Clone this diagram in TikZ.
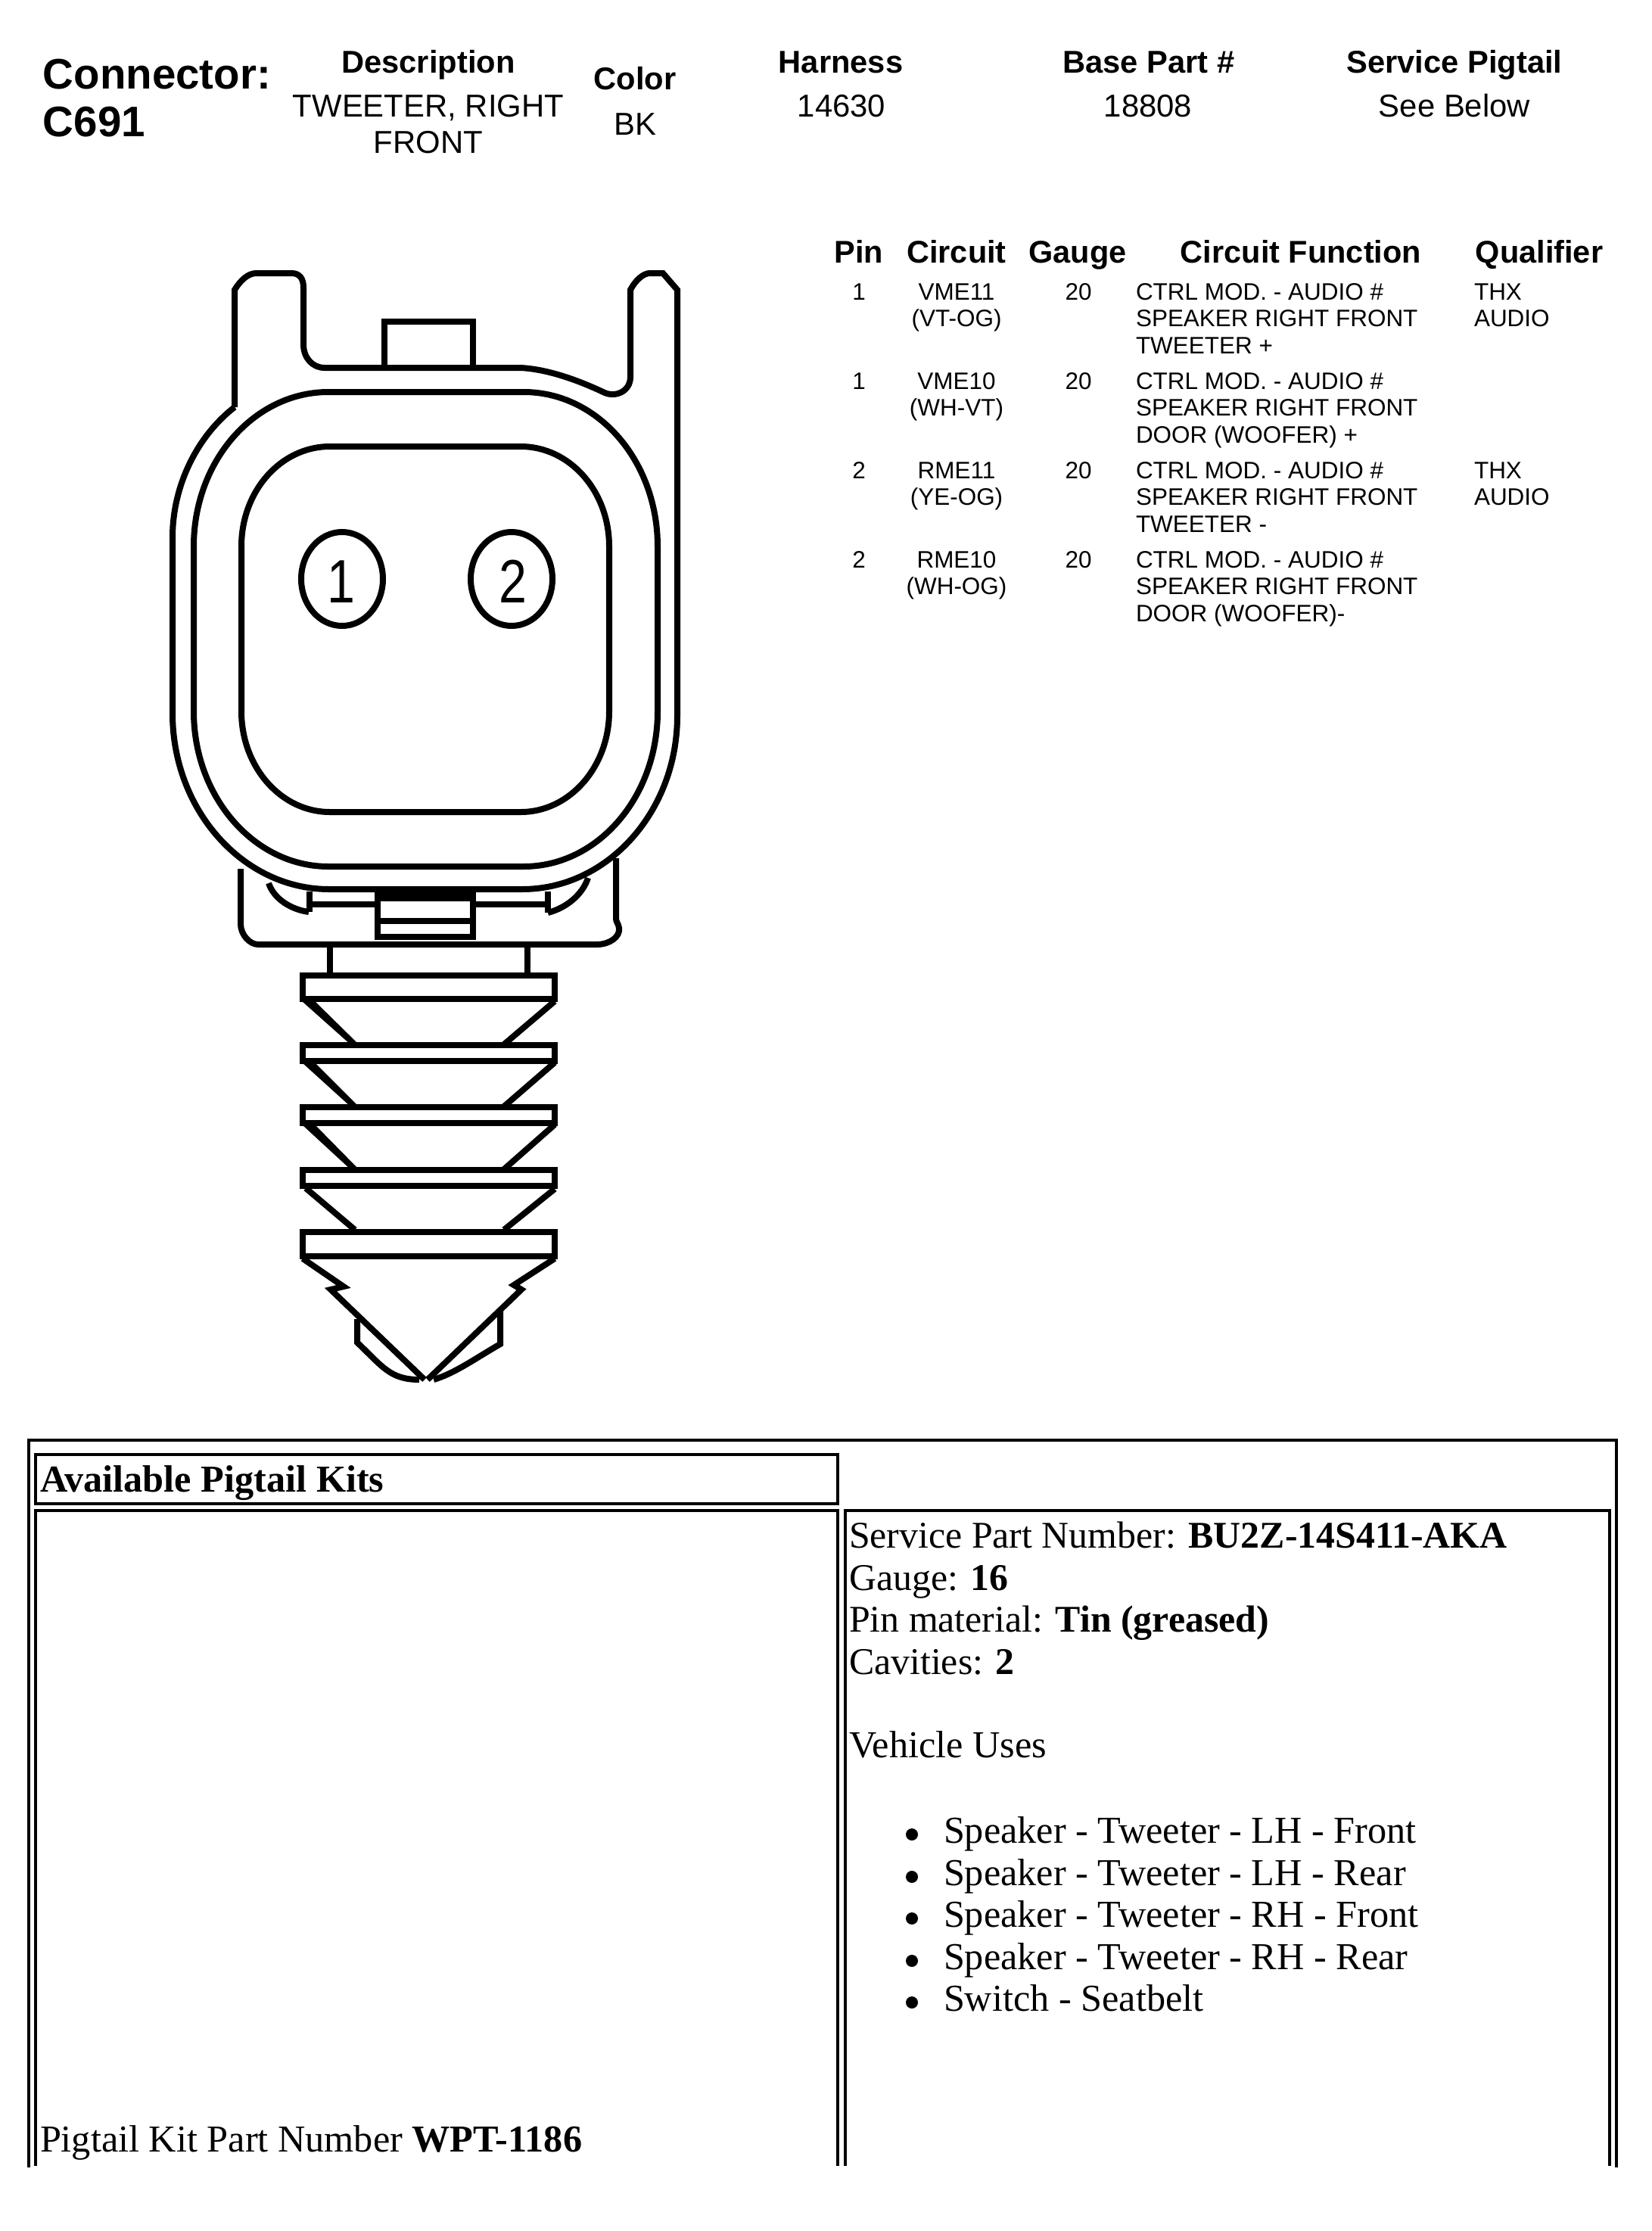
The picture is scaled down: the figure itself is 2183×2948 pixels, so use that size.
\documentclass[tikz,border=0pt]{standalone}
\usepackage{fontspec}
\setmainfont{Liberation Serif}
\newfontfamily\arialf{Liberation Sans}
\newcommand{\szA}{\fontsize{16.05pt}{18pt}\selectfont}
\newcommand{\szB}{\fontsize{11.85pt}{13pt}\selectfont}
\newcommand{\szC}{\fontsize{11.9pt}{13pt}\selectfont}
\newcommand{\szD}{\fontsize{11.8pt}{13pt}\selectfont}
\newcommand{\szE}{\fontsize{8.95pt}{10pt}\selectfont}
\newcommand{\szF}{\fontsize{14.3pt}{16pt}\selectfont}
\newcommand{\szG}{\fontsize{14.18pt}{16pt}\selectfont}
\tikzset{
  x=0.01cm,y=-0.01cm,
  lab/.style={inner sep=0pt,outer sep=0pt,anchor=base},
  labw/.style={inner sep=0pt,outer sep=0pt,anchor=base west},
  big/.style={font=\arialf\bfseries\szA},
  hd/.style={font=\arialf\bfseries\szB},
  val/.style={font=\arialf\szC},
  thd/.style={font=\arialf\bfseries\szD},
  cell/.style={font=\arialf\szE},
  ser/.style={font=\szF},
  sertight/.style={font=\szG},
  ink/.style={line width=0.08cm,black,line join=miter},
  rib/.style={line width=0.085cm,black},
  rule/.style={line width=0.04cm,black},
  digit/.style={inner sep=0pt,outer sep=0pt,anchor=base,font=\arialf\fontsize{23pt}{24pt}\selectfont},
}
\begin{document}
\begin{tikzpicture}
\useasboundingbox (0,0) rectangle (2183,2948);
% header
\node[labw,big] (conn) at (57,117) {Connector:};
\node[labw,big] (cnum) at (57,180) {C691};
\node[lab,hd] (hdesc) at (566,96) {Description};
\node[lab,val] (vdesc1) at (566,154) {TWEETER, RIGHT};
\node[lab,val] (vdesc2) at (566,202) {FRONT};
\node[lab,hd] (hcol) at (839,118) {Color};
\node[lab,val] (vcol) at (839,178) {BK};
\node[lab,hd] (hhar) at (1111,96) {Harness};
\node[lab,val] (vhar) at (1112,154) {14630};
\node[lab,hd] (hbase) at (1518,96) {Base Part \#};
\node[lab,val] (vbase) at (1517,154) {18808};
\node[lab,hd] (hserv) at (1922,96) {Service Pigtail};
\node[lab,val] (vserv) at (1922,154) {See Below};
% pin table head
\node[lab,thd] (tp) at (1135,347) {Pin};
\node[lab,thd] (tc) at (1264,347) {Circuit};
\node[lab,thd] (tg) at (1424,347) {Gauge};
\node[lab,thd] (tf) at (1719,347) {Circuit Function};
\node[lab,thd] (tq) at (2034,347) {Qualifier};
% row 1
\node[lab,cell] (p1) at (1135,396) {1};
\node[lab,cell] (c1a) at (1264,396) {VME11};
\node[lab,cell] (c1b) at (1264,431) {(VT-OG)};
\node[lab,cell] (g1) at (1425,396) {20};
\node[labw,cell] (f1a) at (1501,396) {CTRL MOD. - AUDIO \#};
\node[labw,cell] (f1b) at (1501,431) {SPEAKER RIGHT FRONT};
\node[labw,cell] (f1c) at (1501,467) {TWEETER +};
\node[labw,cell] (q1a) at (1948,396) {THX};
\node[labw,cell] (q1b) at (1948,431) {AUDIO};
% row 2
\node[lab,cell] (p2) at (1135,514) {1};
\node[lab,cell] (c2a) at (1264,514) {VME10};
\node[lab,cell] (c2b) at (1264,549) {(WH-VT)};
\node[lab,cell] (g2) at (1425,514) {20};
\node[labw,cell] (f2a) at (1501,514) {CTRL MOD. - AUDIO \#};
\node[labw,cell] (f2b) at (1501,549) {SPEAKER RIGHT FRONT};
\node[labw,cell] (f2c) at (1501,585) {DOOR (WOOFER) +};
% row 3
\node[lab,cell] (p3) at (1135,632) {2};
\node[lab,cell] (c3a) at (1264,632) {RME11};
\node[lab,cell] (c3b) at (1264,667) {(YE-OG)};
\node[lab,cell] (g3) at (1425,632) {20};
\node[labw,cell] (f3a) at (1501,632) {CTRL MOD. - AUDIO \#};
\node[labw,cell] (f3b) at (1501,667) {SPEAKER RIGHT FRONT};
\node[labw,cell] (f3c) at (1501,703) {TWEETER -};
\node[labw,cell] (q3a) at (1948,632) {THX};
\node[labw,cell] (q3b) at (1948,667) {AUDIO};
% row 4
\node[lab,cell] (p4) at (1135,750) {2};
\node[lab,cell] (c4a) at (1264,750) {RME10};
\node[lab,cell] (c4b) at (1264,785) {(WH-OG)};
\node[lab,cell] (g4) at (1425,750) {20};
\node[labw,cell] (f4a) at (1501,750) {CTRL MOD. - AUDIO \#};
\node[labw,cell] (f4b) at (1501,785) {SPEAKER RIGHT FRONT};
\node[labw,cell] (f4c) at (1501,821) {DOOR (WOOFER)-};
% connector housing outer
\draw[ink] (310,538)--(310,383) .. controls (318,370) and (328,361) .. (339,361)--(385,361)
  .. controls (396,361) and (401,368) .. (401,380)--(401,455)
  .. controls (401,473) and (413,486) .. (429,486)--(688,486)
  .. controls (725,488) and (765,503) .. (797,518)
  .. controls (812,526) and (833,518) .. (833,498)--(833,383)
  .. controls (840,370) and (850,361) .. (859,361)--(876,361)--(895,383)--(895,946)
  .. controls (895,1072) and (803,1175) .. (690,1175)--(435,1175)
  .. controls (321,1175) and (228,1070) .. (228,943)--(228,710)
  .. controls (228,640) and (262,575) .. (310,538);
% top key
\draw[ink] (508,486)--(508,424.5)--(625,424.5)--(625,486);
% mid ring
\draw[ink] (256,722) .. controls (256,609) and (336,518) .. (434,518)--(692,518)
  .. controls (790,518) and (869,609) .. (869,722)--(869,940)
  .. controls (869,1053) and (790,1145) .. (692,1145)--(434,1145)
  .. controls (336,1145) and (256,1053) .. (256,940)--cycle;
% inner ring
\draw[ink] (319,722) .. controls (319,649) and (371,590) .. (436,590)--(688,590)
  .. controls (753,590) and (805,649) .. (805,722)--(805,940)
  .. controls (805,1013) and (753,1073) .. (688,1073)--(436,1073)
  .. controls (371,1073) and (319,1013) .. (319,940)--cycle;
% cavities
\draw[ink] (452,765) ellipse [x radius=54,y radius=62];
\draw[ink] (676,765) ellipse [x radius=54,y radius=62];
\node[digit] (pin1) at (451,796) {\scalebox{0.82}[1.0]{1}};
\node[digit] (pin2) at (678,796) {\scalebox{0.82}[1.0]{2}};
% lower body
\draw[ink] (318,1148)--(318,1221) .. controls (318,1235) and (330,1248) .. (341,1248)--(789,1248)
  .. controls (805,1248) and (820,1238) .. (818,1226) .. controls (817,1220) and (814,1218) .. (814,1214)--(814,1134);
\draw[ink] (355,1167) .. controls (362,1188) and (385,1202) .. (408,1205);
\draw[ink] (777,1160) .. controls (770,1182) and (748,1200) .. (724,1206);
\draw[ink] (409,1178)--(409,1205);
\draw[ink] (724,1178)--(724,1206);
\draw[ink] (412,1195)--(499,1195);
\draw[ink] (626,1195)--(720,1195);
\fill[black] (495.5,1172) rectangle (629,1191);
\draw[ink] (499,1172)--(499,1238)--(625,1238)--(625,1172);
\draw[ink] (499,1217)--(625,1217);
% neck
\draw[ink] (436,1248)--(436,1287);
\draw[ink] (697,1248)--(697,1287);
% ribs
\draw[rib] (400,1289) rectangle (733,1320);
\draw[rib] (400,1381) rectangle (733,1402);
\draw[rib] (400,1463) rectangle (733,1484);
\draw[rib] (400,1546) rectangle (733,1567);
\draw[rib] (400,1628) rectangle (733,1660);
% tapers
\fill[black] (399,1323)--(416,1323)--(474,1380)--(463,1380)--cycle;
\draw[ink] (733,1323)--(666,1380);
\fill[black] (399,1404)--(416,1404)--(474,1462)--(463,1462)--cycle;
\draw[ink] (733,1404)--(666,1462);
\fill[black] (399,1486)--(416,1486)--(474,1545)--(463,1545)--cycle;
\draw[ink] (733,1486)--(666,1545);
\draw[ink] (404,1570)--(469,1625);
\draw[ink] (733,1571)--(666,1625);
% tip
\draw[ink] (400,1663)--(454,1700)--(437,1704)--(561,1823);
\draw[ink] (733,1663)--(679,1698)--(689,1704)--(565,1823);
\draw[ink] (472,1743)--(472,1774) .. controls (505,1805) and (515,1823) .. (554,1823);
\draw[ink] (661,1731)--(661,1776) .. controls (625,1797) and (600,1815) .. (573,1823);
% pigtail table
\draw[rule] (38,2864)--(38,1903)--(2136,1903)--(2136,2864);
\draw[rule] (47,1922) rectangle (1107,1987);
\draw[rule] (47,2862)--(47,1996)--(1107,1996)--(1107,2862);
\draw[rule] (1117,2862)--(1117,1996)--(2127,1996)--(2127,2862);
\node[labw,ser] (apk) at (53,1971) {\textbf{Available Pigtail Kits}};
\node[labw,ser] (kit) at (53,2843) {Pigtail Kit Part Number \textbf{WPT-1186}};
\node[labw,sertight] (s1) at (1122,2045) {Service Part Number: \textbf{BU2Z-14S411-AKA}};
\node[labw,sertight] (s2) at (1122,2101) {Gauge: \textbf{16}};
\node[labw,sertight] (s3) at (1122,2156) {Pin material: \textbf{Tin (greased)}};
\node[labw,sertight] (s4) at (1122,2212) {Cavities: \textbf{2}};
\node[labw,ser] (s5) at (1122,2322) {Vehicle Uses};
\node[labw,ser] (u1) at (1247,2435) {Speaker - Tweeter - LH - Front};
\node[labw,ser] (u2) at (1247,2491) {Speaker - Tweeter - LH - Rear};
\node[labw,ser] (u3) at (1247,2546) {Speaker - Tweeter - RH - Front};
\node[labw,ser] (u4) at (1247,2602) {Speaker - Tweeter - RH - Rear};
\node[labw,ser] (u5) at (1247,2657) {Switch - Seatbelt};
\fill[black] (1205,2424) ellipse [x radius=8,y radius=8];
\fill[black] (1205,2480) ellipse [x radius=8,y radius=8];
\fill[black] (1205,2535) ellipse [x radius=8,y radius=8];
\fill[black] (1205,2591) ellipse [x radius=8,y radius=8];
\fill[black] (1205,2646) ellipse [x radius=8,y radius=8];
\end{tikzpicture}
\end{document}
